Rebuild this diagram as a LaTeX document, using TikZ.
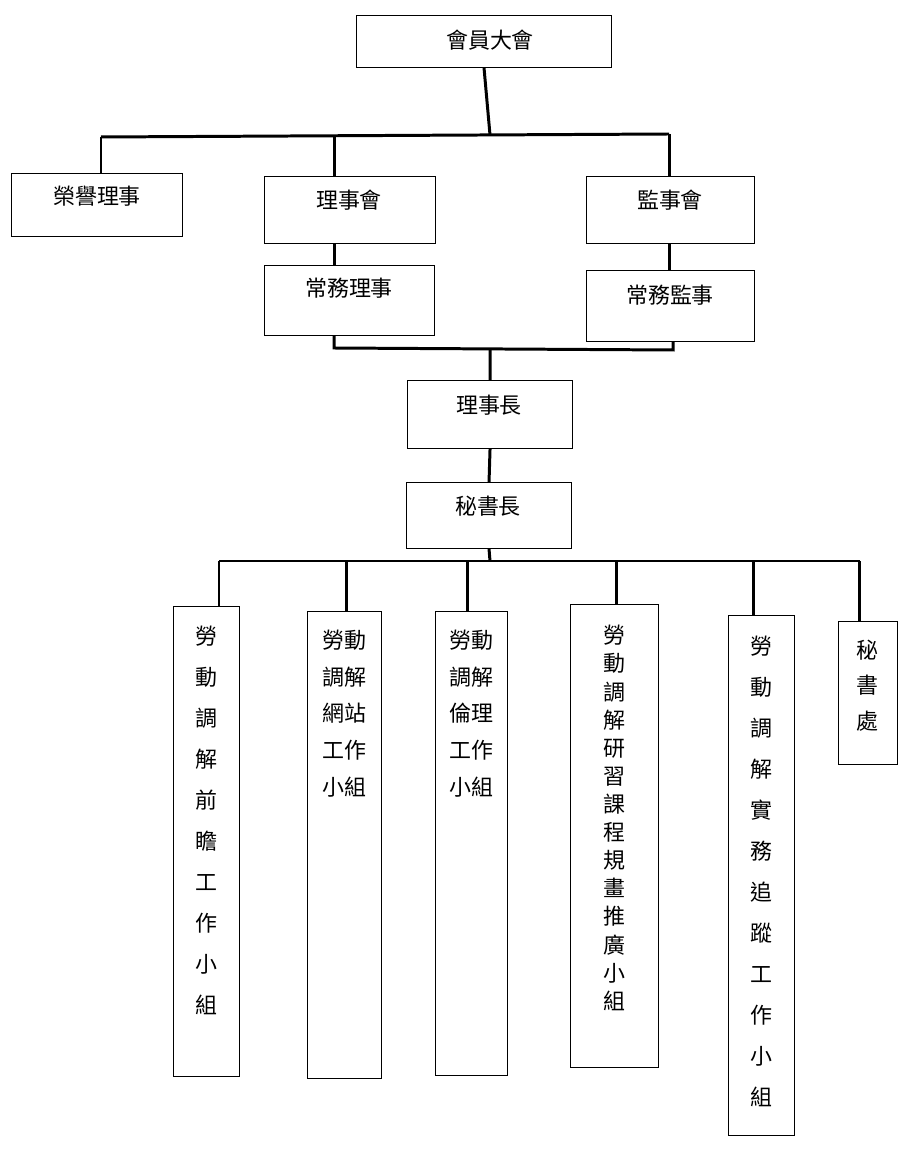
\documentclass[tikz,border=0pt]{standalone}
\usepackage{fontspec}
\setmainfont{Noto Sans CJK TC}
\begin{document}
\begin{tikzpicture}[x=0.02cm,y=-0.02cm,
    box/.style = {draw, line width=0.6pt, anchor=north west, inner sep=0pt},
    txt/.style = {font=\fontsize{12.5}{#1}\selectfont, align=center, anchor=north, inner sep=0pt},
    txt/.default = 23.3pt,
    bar/.style = {line width=1.7pt}
                    ]
    \useasboundingbox (0,0) rectangle (912,1168);
    % boxes: top left corner, size
    \node[box, minimum width=255*0.02cm, minimum height=52*0.02cm] at (356,15) (gm) {};
    \node[txt] at (490,30) (gmt) {會員大會};
    \node[box, minimum width=171*0.02cm, minimum height=63*0.02cm] at (11,173) (hon) {};
    \node[txt] at (97,186) (hont) {榮譽理事};
    \node[box, minimum width=171*0.02cm, minimum height=67*0.02cm] at (264,176) (bd) {};
    \node[txt] at (349,190) (bdt) {理事會};
    \node[box, minimum width=168*0.02cm, minimum height=67*0.02cm] at (586,176) (sv) {};
    \node[txt] at (670,190) (svt) {監事會};
    \node[box, minimum width=170*0.02cm, minimum height=70*0.02cm] at (264,265) (bds) {};
    \node[txt] at (349,278) (bdst) {常務理事};
    \node[box, minimum width=168*0.02cm, minimum height=71*0.02cm] at (586,270) (svs) {};
    \node[txt] at (670,285) (svst) {常務監事};
    \node[box, minimum width=165*0.02cm, minimum height=68*0.02cm] at (407,380) (ch) {};
    \node[txt] at (489,395) (cht) {理事長};
    \node[box, minimum width=165*0.02cm, minimum height=66*0.02cm] at (406,482) (sg) {};
    \node[txt] at (488,496) (sgt) {秘書長};
    \node[box, minimum width=66*0.02cm, minimum height=470*0.02cm] at (173,606) (g1) {};
    \node[txt] at (206,626) (g1t) {勞\\動\\調\\解\\前\\瞻\\工\\作\\小\\組};
    \node[box, minimum width=74*0.02cm, minimum height=467*0.02cm] at (307,611) (g2) {};
    \node[txt=20.8pt] at (344,630) (g2t) {勞動\\調解\\網站\\工作\\小組};
    \node[box, minimum width=72*0.02cm, minimum height=464*0.02cm] at (435,611) (g3) {};
    \node[txt=20.8pt] at (471,630) (g3t) {勞動\\調解\\倫理\\工作\\小組};
    \node[box, minimum width=88*0.02cm, minimum height=463*0.02cm] at (570,604) (g4) {};
    \node[txt=16pt] at (614,625) (g4t) {勞\\動\\調\\解\\研\\習\\課\\程\\規\\畫\\推\\廣\\小\\組};
    \node[box, minimum width=66*0.02cm, minimum height=520*0.02cm] at (728,615) (g5) {};
    \node[txt] at (761,636) (g5t) {勞\\動\\調\\解\\實\\務\\追\\蹤\\工\\作\\小\\組};
    \node[box, minimum width=59*0.02cm, minimum height=143*0.02cm] at (838,621) (g6) {};
    \node[txt=20pt] at (867,640) (g6t) {秘\\書\\處};
    % joints
    \coordinate (j1) at (490,135);
    \coordinate (j1l) at (101,137);
    \coordinate (j1m) at (334,136);
    \coordinate (j1r) at (669,134);
    \coordinate (j2l) at (334,348);
    \coordinate (j2r) at (673,350);
    \coordinate (j2) at (490,349);
    \coordinate (j3) at (490,561);
    \coordinate (j3l) at (219,561);
    \coordinate (j3r) at (860,561);
    % connectors
    \draw[bar] (gm.south) -- (j1);
    \draw[bar] (j1l) -- (j1r);
    \draw[bar] (j1l) -- (j1l |- hon.north);
    \draw[bar] (j1m) -- (j1m |- bd.north);
    \draw[bar] (j1r) -- (j1r |- sv.north);
    \draw[bar] (j1m |- bd.south) -- (j1m |- bds.north);
    \draw[bar] (j1r |- sv.south) -- (j1r |- svs.north);
    \draw[bar] (j2l |- bds.south) -- (j2l) -- (j2r) -- (j2r |- svs.south);
    \draw[bar] (j2) -- (ch.north);
    \draw[bar] (ch.south) -- (sg.north);
    \draw[bar] (sg.south) -- (j3);
    \draw[bar] (j3l) -- (j3r);
    \foreach \n/\x in {g1/219,g2/346,g3/467,g4/616,g5/753,g6/859}
        \draw[bar] (\x,561) -- (\x,561 |- \n.north);
\end{tikzpicture}
\end{document}
